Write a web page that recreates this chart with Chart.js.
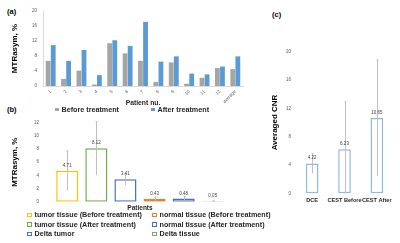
<!DOCTYPE html>
<html>
<head>
<meta charset="utf-8">
<script src="https://cdn.jsdelivr.net/npm/chart.js@4.4.0/dist/chart.umd.min.js"></script>
<style>
body { margin: 0; width: 400px; height: 243px; background: #fff; position: relative; overflow: hidden; font-family: "Liberation Sans", Arial, sans-serif; }
.box { position: absolute; }
.tag { position: absolute; font-weight: bold; font-size: 7.5px; color: #000; line-height: 9px; }
.leg { position: absolute; font-weight: bold; font-size: 7.2px; color: #262626; white-space: nowrap; line-height: 9.5px; }
.leg i { display: inline-block; width: 2.5px; height: 2.5px; border: 1px solid; margin-right: 3px; vertical-align: 0px; background: #fff; }
.leg b { display: inline-block; width: 3.5px; height: 3.5px; margin-right: 3px; vertical-align: 1px; }
</style>
</head>
<body>
<div class="tag" style="left:7px;top:7px">(a)</div>
<div class="tag" style="left:7px;top:105px">(b)</div>
<div class="tag" style="left:272px;top:10px">(c)</div>

<div class="box" style="left:0;top:0;width:262px;height:108px"><canvas id="chartA"></canvas></div>
<div class="box" style="left:0;top:116px;width:262px;height:96px"><canvas id="chartB"></canvas></div>
<div class="box" style="left:264px;top:0;width:136px;height:210px"><canvas id="chartC"></canvas></div>

<div class="leg" id="legA1" style="left:55px;top:105px"></div>
<div class="leg" id="legA2" style="left:151px;top:105px"></div>
<div class="leg" id="legB1" style="left:27px;top:210px"></div>
<div class="leg" id="legB2" style="left:152px;top:210px"></div>

<script>
// panel (a): MTRasym per patient
var patients = ['1', '2', '3', '4', '5', '6', '7', '8', '9', '10', '11', '12', 'average'];
var beforeTreatment = [6.7, 1.9, 4.1, 0.4, 11.4, 8.7, 6.7, 1.1, 6.3, 0.6, 2.2, 4.8, 4.5];
var afterTreatment = [10.9, 6.7, 9.6, 2.9, 12.2, 10.7, 17.1, 6.5, 7.9, 3.3, 3.1, 5.2, 7.9];

// panel (b): tissue averages with error bars
var tissueNames = ['tumor tissue (Before treatment)', 'tumor tissue (After treatment)', 'Delta tumor',
                   'normal tissue (Before treatment)', 'normal tissue (After treatment)', 'Delta tissue'];
var tissueValues = [4.71, 8.12, 3.41, 0.43, 0.48, 0.05];
var tissueErrors = [3.0, 4.05, 0.9, 0.3, 0.3, 0.1];
var tissueColors = ['#FFC000', '#70AD47', '#4472C4', '#ED7D31', '#4F6EB0', '#82A566'];

// panel (c): averaged CNR
var cnrLabels = ['DCE', 'CEST Before', 'CEST After'];
var cnrValues = [4.22, 6.23, 10.65];
var cnrErrors = [1.4, 6.7, 8.2];

var tickFont = { family: 'Liberation Sans', size: 4.5 };
var boldFont = function (size) { return { family: 'Liberation Sans', size: size, weight: 'bold' }; };

// draws vertical error bars from dataset.errors
var errorBars = {
    id: 'errorBars',
    afterDatasetsDraw: function (chart) {
        var ctx = chart.ctx;
        var y = chart.scales.y;
        ctx.save();
        ctx.strokeStyle = '#BFBFBF';
        ctx.lineWidth = 1;
        chart.data.datasets.forEach(function (ds, i) {
            if (!ds.errors) return;
            chart.getDatasetMeta(i).data.forEach(function (el, j) {
                var v = ds.data[j], e = ds.errors[j];
                var top = y.getPixelForValue(v + e);
                var bot = y.getPixelForValue(Math.max(v - e, 0));
                var x = Math.round(el.x) + 0.5;
                ctx.beginPath();
                ctx.moveTo(x, top);
                ctx.lineTo(x, bot);
                ctx.moveTo(x - 1, top);
                ctx.lineTo(x + 1, top);
                ctx.stroke();
            });
        });
        ctx.restore();
    }
};

// value text above each bar
var valueLabels = {
    id: 'valueLabels',
    afterDatasetsDraw: function (chart) {
        var ctx = chart.ctx;
        ctx.save();
        ctx.font = '4.5px "Liberation Sans"';
        ctx.fillStyle = '#404040';
        ctx.textAlign = 'center';
        ctx.textBaseline = 'bottom';
        chart.data.datasets.forEach(function (ds, i) {
            chart.getDatasetMeta(i).data.forEach(function (el, j) {
                ctx.fillText(ds.data[j].toFixed(2), el.x, el.y - 3);
            });
        });
        ctx.restore();
    }
};

new Chart(document.getElementById('chartA'), {
    type: 'bar',
    data: {
        labels: patients,
        datasets: [
            { label: 'Before treatment', data: beforeTreatment, backgroundColor: '#A5A5A5', categoryPercentage: 0.66, barPercentage: 0.95 },
            { label: 'After treatment', data: afterTreatment, backgroundColor: '#5B9BD5', categoryPercentage: 0.66, barPercentage: 0.95 }
        ]
    },
    options: {
        responsive: true, maintainAspectRatio: false, animation: false,
        layout: { padding: { top: 11, right: 19, left: 0, bottom: 0 } },
        plugins: { legend: { display: false }, tooltip: { enabled: false } },
        scales: {
            x: {
                grid: { display: false, drawTicks: false }, border: { color: '#D9D9D9' },
                ticks: { font: tickFont, color: '#595959', minRotation: 45, maxRotation: 45, autoSkip: false, padding: 3 },
                title: { display: true, text: 'Patient nu.', font: boldFont(6.8), color: '#262626', padding: 1 },
                afterFit: function (s) { s.height = 22; }
            },
            y: {
                min: 0, max: 20,
                grid: { display: false, drawTicks: false }, border: { color: '#D9D9D9' },
                ticks: { stepSize: 4, font: tickFont, color: '#595959', padding: 6 },
                title: { display: true, text: 'MTRasym, %', font: boldFont(8), color: '#000', padding: { top: 10, bottom: 0 } },
                afterFit: function (s) { s.width = 43; }
            }
        }
    }
});

new Chart(document.getElementById('chartB'), {
    type: 'bar',
    data: {
        labels: ['Patients'],
        datasets: tissueNames.map(function (name, i) {
            return {
                label: name, data: [tissueValues[i]], errors: [tissueErrors[i]],
                backgroundColor: '#fff', borderColor: tissueColors[i], borderWidth: 1.5, borderSkipped: false,
                categoryPercentage: 0.9, barPercentage: 0.76
            };
        })
    },
    options: {
        responsive: true, maintainAspectRatio: false, animation: false,
        layout: { padding: { top: 6.7, right: 25, left: 0, bottom: 0 } },
        plugins: { legend: { display: false }, tooltip: { enabled: false } },
        scales: {
            x: {
                grid: { display: false, drawTicks: false }, border: { display: false },
                ticks: { display: false },
                title: { display: true, text: 'Patients', font: boldFont(6.5), color: '#262626', padding: 0 },
                afterFit: function (s) { s.height = 10.3; }
            },
            y: {
                min: 0, max: 12,
                grid: { display: false, drawTicks: false }, border: { display: false },
                ticks: { stepSize: 2, font: tickFont, color: '#595959', padding: 4 },
                title: { display: true, text: 'MTRasym, %', font: boldFont(8), color: '#000', padding: { top: 10, bottom: 0 } },
                afterFit: function (s) { s.width = 43; }
            }
        }
    },
    plugins: [errorBars, valueLabels]
});

new Chart(document.getElementById('chartC'), {
    type: 'bar',
    data: {
        labels: cnrLabels,
        datasets: [{
            label: 'Averaged CNR', data: cnrValues, errors: cnrErrors,
            backgroundColor: '#fff', borderColor: '#8FB8E8', borderWidth: 1.5, borderSkipped: false,
            categoryPercentage: 1, barPercentage: 0.39
        }]
    },
    options: {
        responsive: true, maintainAspectRatio: false, animation: false,
        layout: { padding: { top: 51.7, right: 7, left: 0, bottom: 0 } },
        plugins: { legend: { display: false }, tooltip: { enabled: false } },
        scales: {
            x: {
                grid: { display: false, drawTicks: false }, border: { display: false },
                ticks: { font: boldFont(5.6), color: '#262626', padding: 4, maxRotation: 0, autoSkip: false },
                afterFit: function (s) { s.height = 16.7; }
            },
            y: {
                min: 0, max: 20,
                grid: { display: false, drawTicks: false }, border: { display: false },
                ticks: { stepSize: 4, font: tickFont, color: '#595959', padding: 5 },
                title: { display: true, text: 'Averaged CNR', font: boldFont(8), color: '#000', padding: { top: 6, bottom: 0 } },
                afterFit: function (s) { s.width = 32; }
            }
        }
    },
    plugins: [errorBars, valueLabels]
});

// html legends
document.getElementById('legA1').innerHTML = '<b style="background:#A5A5A5"></b>Before treatment';
document.getElementById('legA2').innerHTML = '<b style="background:#5B9BD5"></b>After treatment';
var rowsB1 = [], rowsB2 = [];
tissueNames.forEach(function (name, i) {
    var row = '<div><i style="border-color:' + tissueColors[i] + '"></i>' + name + '</div>';
    if (i < 3) rowsB1.push(row); else rowsB2.push(row);
});
document.getElementById('legB1').innerHTML = rowsB1.join('');
document.getElementById('legB2').innerHTML = rowsB2.join('');
</script>
</body>
</html>
